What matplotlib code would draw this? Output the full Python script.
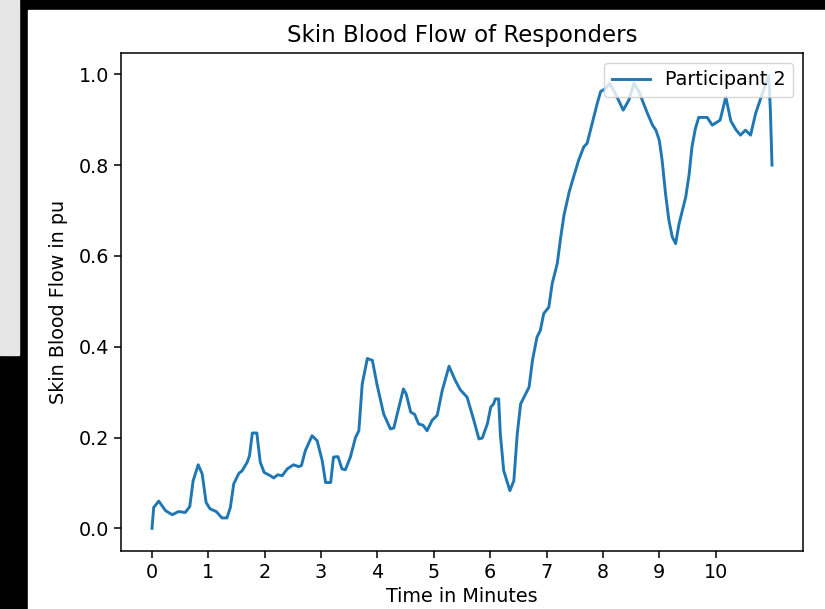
import numpy as np
import matplotlib
matplotlib.use('Agg')
import matplotlib.pyplot as plt
from matplotlib.patches import Rectangle

# Traced skin blood flow of participant 2 (time in minutes, flow in pu)
time_min = [0.0, 0.03, 0.12, 0.24, 0.36, 0.47, 0.59, 0.67, 0.73, 0.82,
            0.89, 0.96, 1.03, 1.14, 1.24, 1.33, 1.39, 1.45, 1.54, 1.60,
            1.69, 1.73, 1.78, 1.86, 1.92, 1.99, 2.10, 2.16, 2.23, 2.31,
            2.40, 2.51, 2.60, 2.65, 2.72, 2.84, 2.93, 3.02, 3.08, 3.17,
            3.22, 3.30, 3.37, 3.43, 3.52, 3.61, 3.67, 3.73, 3.82, 3.91,
            3.99, 4.11, 4.23, 4.29, 4.38, 4.46, 4.51, 4.59, 4.66, 4.73,
            4.81, 4.88, 4.97, 5.06, 5.15, 5.27, 5.38, 5.47, 5.59, 5.71,
            5.80, 5.86, 5.95, 6.01, 6.06, 6.09, 6.15, 6.18, 6.24, 6.35,
            6.42, 6.48, 6.54, 6.63, 6.69, 6.75, 6.83, 6.89, 6.95, 7.04,
            7.10, 7.19, 7.25, 7.31, 7.40, 7.47, 7.57, 7.66, 7.72, 7.81,
            7.90, 7.96, 8.05, 8.12, 8.22, 8.36, 8.46, 8.55, 8.64, 8.72,
            8.79, 8.88, 8.94, 9.00, 9.05, 9.11, 9.17, 9.23, 9.29, 9.35,
            9.41, 9.47, 9.53, 9.58, 9.64, 9.70, 9.85, 9.94, 10.08, 10.18,
            10.27, 10.36, 10.44, 10.53, 10.62, 10.71, 10.80, 10.89, 10.94, 10.97,
            11.0]
flow_pu = [0.0, 0.046, 0.060, 0.039, 0.030, 0.037, 0.035, 0.048, 0.105, 0.140,
           0.120, 0.057, 0.043, 0.037, 0.023, 0.023, 0.046, 0.098, 0.121, 0.127,
           0.146, 0.160, 0.210, 0.210, 0.146, 0.123, 0.116, 0.111, 0.118, 0.116,
           0.131, 0.140, 0.136, 0.138, 0.171, 0.204, 0.193, 0.149, 0.101, 0.101,
           0.157, 0.158, 0.131, 0.129, 0.157, 0.200, 0.215, 0.318, 0.374, 0.370,
           0.318, 0.252, 0.219, 0.221, 0.267, 0.307, 0.296, 0.256, 0.251, 0.230,
           0.227, 0.215, 0.238, 0.249, 0.304, 0.357, 0.326, 0.305, 0.289, 0.238,
           0.197, 0.199, 0.230, 0.267, 0.274, 0.285, 0.285, 0.208, 0.127, 0.083,
           0.105, 0.208, 0.274, 0.296, 0.311, 0.370, 0.421, 0.436, 0.473, 0.487,
           0.539, 0.583, 0.640, 0.690, 0.740, 0.770, 0.811, 0.840, 0.848, 0.892,
           0.936, 0.962, 0.969, 0.980, 0.958, 0.921, 0.943, 0.980, 0.962, 0.936,
           0.914, 0.888, 0.877, 0.855, 0.811, 0.738, 0.679, 0.642, 0.627, 0.670,
           0.700, 0.730, 0.780, 0.840, 0.880, 0.905, 0.905, 0.888, 0.899, 0.950,
           0.897, 0.878, 0.866, 0.877, 0.866, 0.914, 0.947, 0.980, 0.997, 0.925,
           0.800]
minute_ticks = list(range(11))

fig = plt.figure(figsize=(8.25, 6.09), dpi=100, facecolor='black')
# screenshot framing: white figure area, light grey side panel
fig.patches.append(Rectangle((28 / 825, 0), 1, 1 - 10 / 609,
                             transform=fig.transFigure, color='white', zorder=-10))
fig.patches.append(Rectangle((0, 1 - 355 / 609), 19 / 825, 355 / 609,
                             transform=fig.transFigure, color='#e6e6e6', zorder=-10))

ax = fig.add_axes([121 / 825, 1 - 551 / 609, 682 / 825, 498 / 609])
ax.plot(time_min, flow_pu, color='#1f77b4', lw=2.1, label='Participant 2')
ax.set_xticks(minute_ticks)
ax.set_title('Skin Blood Flow of Responders', fontsize=16.5, pad=8)
ax.set_xlabel('Time in Minutes', fontsize=13.75, labelpad=4)
ax.set_ylabel('Skin Blood Flow in pu', fontsize=13.75, labelpad=8)
ax.tick_params(labelsize=13.75, length=5, width=1.1)
for s in ax.spines.values():
    s.set_linewidth(1.1)
ax.legend(loc='upper right', fontsize=13.75)

plt.savefig('out.png', dpi=100, facecolor=fig.get_facecolor())
